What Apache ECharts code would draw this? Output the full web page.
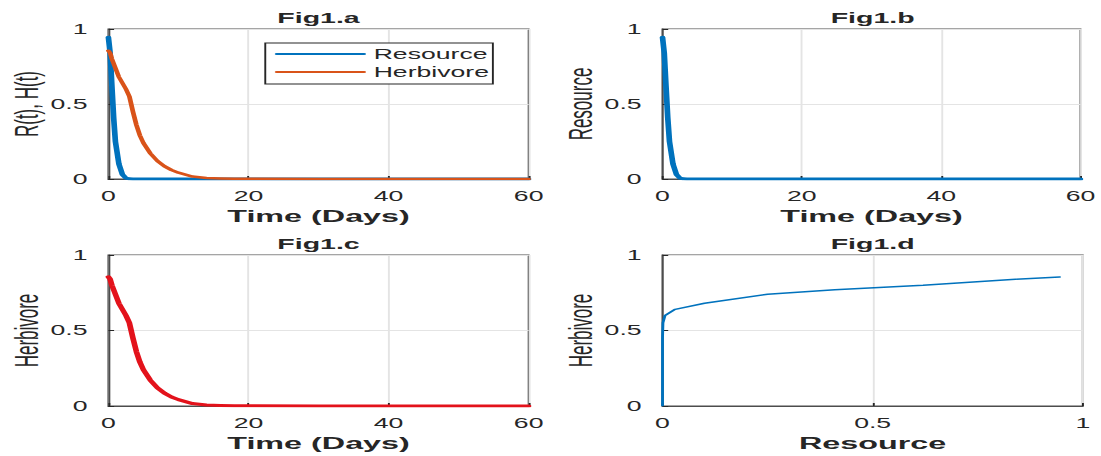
<!DOCTYPE html>
<html>
<head>
<meta charset="utf-8">
<script src="https://cdn.jsdelivr.net/npm/echarts@6/dist/echarts.min.js"></script>
<style>
  html, body { margin: 0; padding: 0; overflow: hidden; background: #fff; }
  /* the source figure was stretched sideways, so draw it narrow and widen it */
  #main { width: 579px; height: 456px; transform: scaleX(1.9016); transform-origin: 0 0; }
</style>
</head>
<body>
<div id="main"></div>
<script>
const timeDays = [0, 0.25, 0.5, 0.75, 1, 1.5, 2, 2.5, 3, 3.5, 4, 4.5, 5, 6, 7, 8, 9, 10, 12, 14, 16, 18, 20, 30, 40, 50, 60];
const resource = [0.945, 0.84, 0.62, 0.41, 0.25, 0.10, 0.03, 0.006, 0.001, 0, 0, 0, 0, 0, 0, 0, 0, 0, 0, 0, 0, 0, 0, 0, 0, 0, 0];
const herbivore = [0.855, 0.84, 0.80, 0.77, 0.74, 0.68, 0.64, 0.60, 0.55, 0.45, 0.36, 0.29, 0.24, 0.17, 0.12, 0.085, 0.06, 0.042, 0.016, 0.007, 0.004, 0.002, 0.001, 0, 0, 0, 0];

const panelTitles = ['Fig1.a', 'Fig1.b', 'Fig1.c', 'Fig1.d'];
const xNames = ['Time (Days)', 'Time (Days)', 'Time (Days)', 'Resource'];
const yNames = ['R(t), H(t)', 'Resource', 'Herbivore', 'Herbivore'];
const legendNames = ['Resource', 'Herbivore'];

const FONT = "'Liberation Sans', Arial, Helvetica, sans-serif";
const TEXT = '#262626';
const BLUE = '#0072BD';
const ORANGE = '#D95319';
const RED = '#E3121B';

const pairs = (xs, ys) => xs.map((x, i) => [x, ys[i]]);

// plot boxes (in the narrow drawing space)
const boxes = [
  { left: 57, top: 29, width: 221, height: 150 },
  { left: 348.4, top: 29, width: 221, height: 150 },
  { left: 57, top: 255, width: 221, height: 151 },
  { left: 348.4, top: 255, width: 221, height: 151 },
];

function xAxisFor(i, max, interval) {
  return {
    type: 'value', gridIndex: i, min: 0, max: max, interval: interval,
    name: xNames[i], nameLocation: 'middle', nameGap: 29,
    nameTextStyle: { fontFamily: FONT, fontSize: 17, fontWeight: 'bold', color: TEXT },
    axisLine: { show: true, lineStyle: { color: '#4d4d4d', width: 1 } },
    axisTick: { show: true, inside: true, length: 3, lineStyle: { color: TEXT } },
    axisLabel: { fontFamily: FONT, fontSize: 14, color: TEXT, margin: 10 },
    splitLine: { show: true, lineStyle: { color: '#e4e4e4', width: 1 } },
  };
}

function yAxisFor(i) {
  return {
    type: 'value', gridIndex: i, min: 0, max: 1, interval: 0.5,
    name: yNames[i], nameLocation: 'middle', nameGap: i === 0 ? 32 : 34,
    nameTextStyle: { fontFamily: FONT, fontSize: 17, color: TEXT },
    axisLine: { show: true, lineStyle: { color: '#4d4d4d', width: 1 } },
    axisTick: { show: true, inside: true, length: 3, lineStyle: { color: TEXT } },
    axisLabel: { fontFamily: FONT, fontSize: 14, color: TEXT, margin: 11 },
    splitLine: { show: true, lineStyle: { color: '#e4e4e4', width: 1 } },
  };
}

function lineSeries(name, i, data, color, width) {
  return {
    name: name, type: 'line', xAxisIndex: i, yAxisIndex: i,
    data: data, symbol: 'none', showSymbol: false,
    lineStyle: { color: color, width: width, cap: 'round', join: 'round' },
    itemStyle: { color: color },
  };
}

const chart = echarts.init(document.getElementById('main'), null, { renderer: 'svg' });

chart.setOption({
  animation: false,
  backgroundColor: '#fff',
  grid: boxes.map(b => ({ ...b, show: true, borderColor: '#4d4d4d', borderWidth: 1 })),
  graphic: boxes.map((b, i) => ({
    type: 'text',
    x: b.left + b.width / 2,
    y: b.top - 11,
    style: {
      text: panelTitles[i], fontFamily: FONT, fontSize: 15, fontWeight: 'bold',
      fill: TEXT, align: 'center', verticalAlign: 'middle',
    },
  })),
  legend: {
    data: legendNames,
    orient: 'vertical',
    left: 139.5, top: 43,
    padding: [4, 2, 5, 5],
    itemWidth: 46, itemHeight: 14, itemGap: 4,
    // line only, no marker in the key
    itemStyle: { opacity: 0 },
    lineStyle: { width: 2 },
    borderColor: TEXT, borderWidth: 1, backgroundColor: '#fff',
    textStyle: { fontFamily: FONT, fontSize: 14, color: TEXT },
  },
  xAxis: [xAxisFor(0, 60, 20), xAxisFor(1, 60, 20), xAxisFor(2, 60, 20), xAxisFor(3, 1, 0.5)],
  yAxis: [yAxisFor(0), yAxisFor(1), yAxisFor(2), yAxisFor(3)],
  series: [
    lineSeries('Resource', 0, pairs(timeDays, resource), BLUE, 3),
    lineSeries('Herbivore', 0, pairs(timeDays, herbivore), ORANGE, 2.5),
    lineSeries('R only', 1, pairs(timeDays, resource), BLUE, 3),
    lineSeries('H only', 2, pairs(timeDays, herbivore), RED, 3),
    lineSeries('Phase', 3, pairs(resource, herbivore), BLUE, 1.5),
  ],
});
</script>
</body>
</html>
